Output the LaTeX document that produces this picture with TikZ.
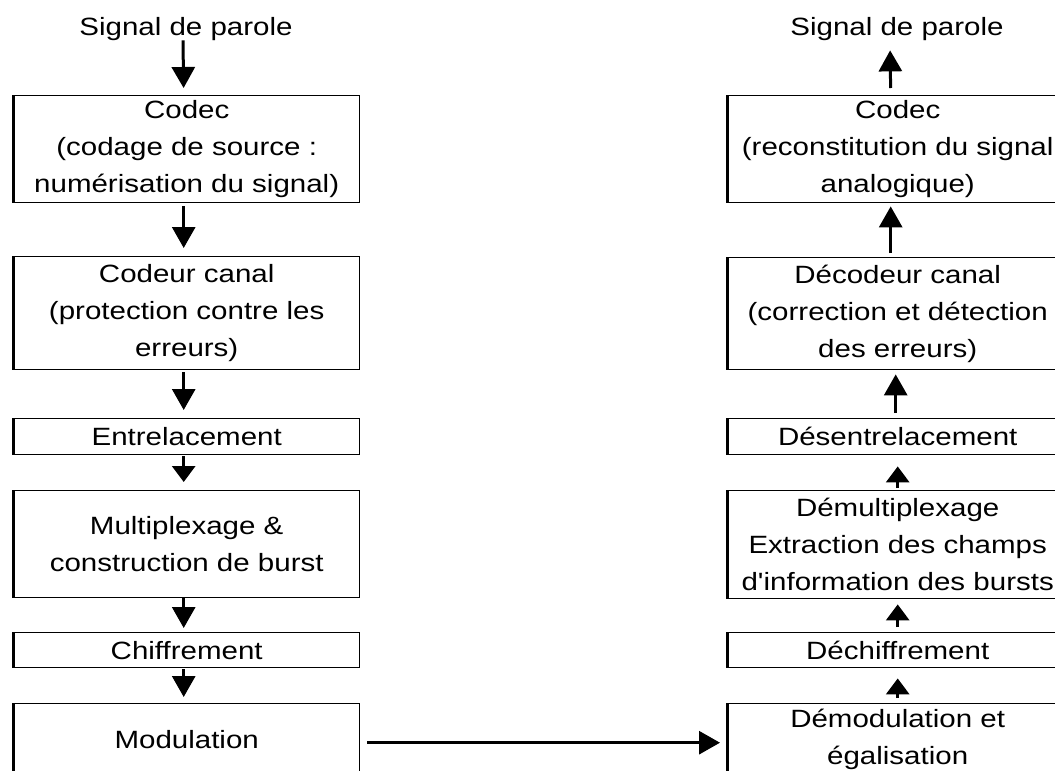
\documentclass[tikz,border=0pt]{standalone}
\usepackage{fontspec}
\setmainfont{Liberation Sans}[FakeStretch=1.18, Ligatures=TeXOff]
\usetikzlibrary{arrows.meta}
\begin{document}
\begin{tikzpicture}[x=1pt,y=-1pt,
  box/.style={draw, line width=1.4pt, inner sep=0pt, align=center, anchor=north west,
    font=\fontsize{25}{37}\selectfont},
  lbox/.style={box, minimum width=346pt},
  rbox/.style={box, minimum width=340pt},
  lbl/.style={inner sep=0pt, anchor=base, font=\fontsize{25}{37}\selectfont},
  bigarr/.style={-{Triangle[length=21pt,width=23pt]}, line width=3pt},
  smallarr/.style={-{Triangle[length=16pt,width=23pt]}, line width=3pt},
  thickedge/.style={line width=3pt}]
\useasboundingbox (0,0) rectangle (1055,771);

% left column
\node[lbl] (sig1) at (186,35) {Signal de parole};
\node[lbox, minimum height=107pt] (codec1) at (13,95) {Codec\\(codage de source :\\numérisation du signal)};
\node[lbox, minimum height=113pt] (canal1) at (13,256) {Codeur canal\\(protection contre les\\erreurs)};
\node[lbox, minimum height=36pt] (entre1) at (13,418) {Entrelacement};
\node[lbox, minimum height=107pt] (mux1) at (13,490) {Multiplexage \&\\construction de burst};
\node[lbox, minimum height=35pt] (chif1) at (13,632) {Chiffrement};
\node[lbox, minimum height=72pt] (mod1) at (13,703) {Modulation};

% right column
\node[lbl] (sig2) at (897,35) {Signal de parole};
\node[rbox, minimum height=107pt] (codec2) at (727,95) {Codec\\(reconstitution du signal\\analogique)};
\node[rbox, minimum height=112pt] (canal2) at (727,257) {Décodeur canal\\(correction et détection\\des erreurs)};
\node[rbox, minimum height=36pt] (entre2) at (727,418) {Désentrelacement};
\node[rbox, minimum height=108pt] (mux2) at (727,490) {Démultiplexage\\Extraction des champs\\d'information des bursts};
\node[rbox, minimum height=35pt] (chif2) at (727,632) {Déchiffrement};
\node[rbox, minimum height=72pt] (demod) at (727,703) {Démodulation et\\égalisation};

% thick left edges
\foreach \n in {codec1,canal1,entre1,mux1,chif1,mod1,codec2,canal2,entre2,mux2,chif2,demod}
  \draw[thickedge] (\n.north west) -- (\n.south west);

% left arrows (downward)
\draw[bigarr, shorten >=7pt] ([xshift=-3pt]sig1.south) -- ([xshift=-3pt]codec1.north);
\draw[bigarr, shorten <=3pt, shorten >=8pt] ([xshift=-3pt]codec1.south) -- ([xshift=-3pt]canal1.north);
\draw[bigarr, shorten <=2pt, shorten >=8pt] ([xshift=-3pt]canal1.south) -- ([xshift=-3pt]entre1.north);
\draw[smallarr, shorten <=1pt, shorten >=8pt] ([xshift=-3pt]entre1.south) -- ([xshift=-3pt]mux1.north);
\draw[bigarr, shorten >=4pt] ([xshift=-3pt]mux1.south) -- ([xshift=-3pt]chif1.north);
\draw[bigarr, shorten <=1pt, shorten >=6pt] ([xshift=-3pt]chif1.south) -- ([xshift=-3pt]mod1.north);

% right arrows (upward)
\draw[bigarr, shorten <=7pt, shorten >=10pt] ([xshift=-7pt]codec2.north) -- ([xshift=-7pt]sig2.south);
\draw[bigarr, shorten <=4pt, shorten >=3pt] ([xshift=-7pt]canal2.north) -- ([xshift=-7pt]codec2.south);
\draw[bigarr, shorten <=5pt, shorten >=4pt] ([xshift=-2pt]entre2.north) -- ([xshift=-2pt]canal2.south);
\draw[smallarr, shorten <=2pt, shorten >=11pt] (mux2.north) -- (entre2.south);
\draw[smallarr, shorten <=5pt, shorten >=5pt] (chif2.north) -- (mux2.south);
\draw[smallarr, shorten <=5pt, shorten >=10pt] (demod.north) -- (chif2.south);

% horizontal arrow
\draw[bigarr, shorten <=7pt, shorten >=7pt] ([yshift=-3pt]mod1.east) -- ([yshift=-3pt]demod.west);
\end{tikzpicture}
\end{document}
